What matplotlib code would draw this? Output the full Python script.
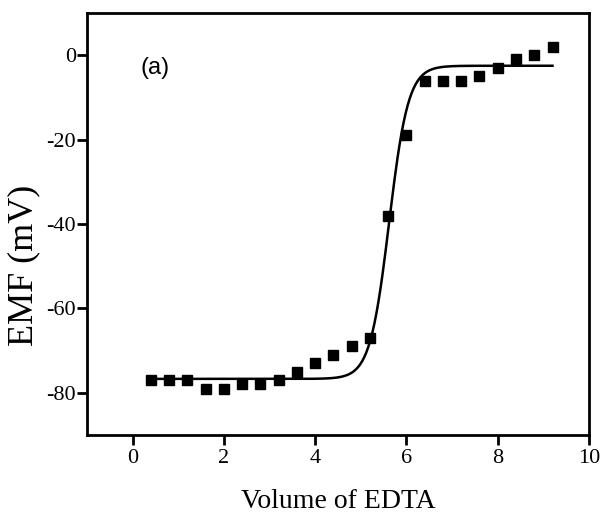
import numpy as np
import matplotlib.pyplot as plt

# titration data
volume = [0.4, 0.8, 1.2, 1.6, 2.0, 2.4, 2.8, 3.2, 3.6, 4.0, 4.4, 4.8,
          5.2, 5.6, 6.0, 6.4, 6.8, 7.2, 7.6, 8.0, 8.4, 8.8, 9.2]
emf = [-77, -77, -77, -79, -79, -78, -78, -77, -75, -73, -71, -69,
       -67, -38, -19, -6, -6, -6, -5, -3, -1, 0, 2]

# sigmoidal (Boltzmann) fit parameters estimated from the drawn curve
fitA1 = -76.7
fitA2 = -2.5
fitX0 = 5.62
fitDx = 0.21

xFit = np.linspace(volume[0], volume[-1], 400)
yFit = fitA2 + (fitA1 - fitA2) / (1 + np.exp((xFit - fitX0) / fitDx))

serif = 'Liberation Serif'

fig = plt.figure(figsize=(6.09, 5.18), dpi=100)
ax = fig.add_axes([0.1429, 0.1602, 0.8243, 0.8147])

ax.plot(xFit, yFit, color='black', linewidth=1.8)
ax.plot(volume, emf, 's', color='black', markersize=6.5)

ax.set_xlim(-1, 10)
ax.set_ylim(-90, 10)
ax.set_xticks([0, 2, 4, 6, 8, 10])
ax.set_yticks([0, -20, -40, -60, -80])
ax.set_yticklabels(['0', '-20', '-40', '-60', '-80'])

for side in ['top', 'right', 'left', 'bottom']:
    ax.spines[side].set_linewidth(2)

ax.tick_params(axis='both', direction='out', length=7, width=2,
               labelsize=16)
ax.tick_params(axis='y', pad=1)
ax.tick_params(axis='x', pad=3)
for lab in ax.get_xticklabels() + ax.get_yticklabels():
    lab.set_fontfamily(serif)

ax.set_xlabel('Volume of EDTA', fontsize=20, fontfamily=serif, labelpad=15)
ax.set_ylabel('EMF (mV)', fontsize=26, fontfamily=serif)
ax.yaxis.set_label_coords(-0.094, 0.403)

ax.text(0.135, 0.87, '(a)', transform=ax.transAxes, fontsize=17,
        fontfamily='Liberation Sans', ha='center', va='center')

fig.savefig('out.png', dpi=100)
